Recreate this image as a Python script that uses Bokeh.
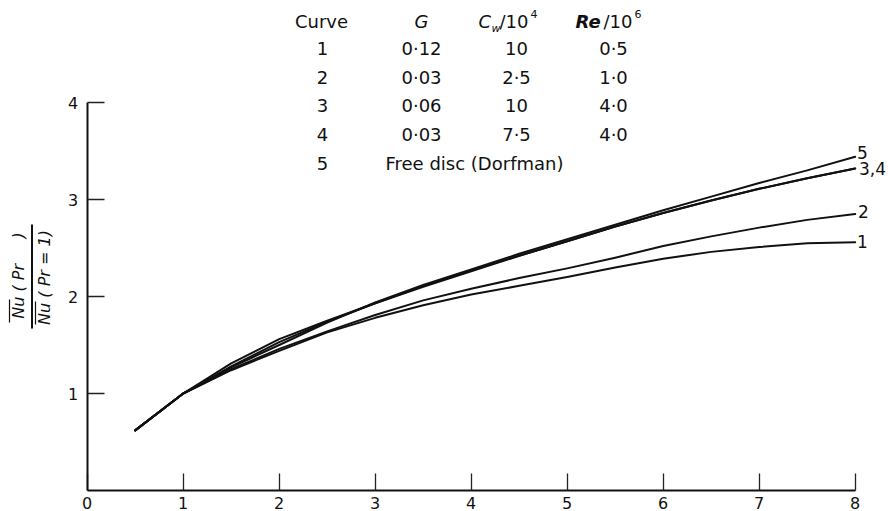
import math
from bokeh.plotting import figure
from bokeh.models import Label, Arrow, FixedTicker, Range1d
from bokeh.embed import file_html
from bokeh.resources import INLINE

# ---- data ----
pr = [0.5, 1.0, 1.5, 2.0, 2.5, 3.0, 3.5, 4.0, 4.5, 5.0, 5.5, 6.0, 6.5, 7.0, 7.5, 8.0]
curve1 = [0.62, 1.00, 1.24, 1.44, 1.63, 1.78, 1.91, 2.02, 2.11, 2.20, 2.30, 2.39, 2.46, 2.51, 2.55, 2.56]
curve2 = [0.62, 1.00, 1.25, 1.46, 1.64, 1.81, 1.96, 2.08, 2.19, 2.29, 2.40, 2.52, 2.62, 2.71, 2.79, 2.85]
curve3 = [0.62, 1.00, 1.31, 1.56, 1.75, 1.93, 2.10, 2.26, 2.42, 2.57, 2.72, 2.86, 2.99, 3.11, 3.22, 3.32]
curve4 = [0.62, 1.00, 1.28, 1.53, 1.74, 1.93, 2.11, 2.27, 2.42, 2.57, 2.72, 2.86, 2.99, 3.11, 3.22, 3.32]
curve5 = [0.62, 1.00, 1.27, 1.50, 1.73, 1.94, 2.12, 2.28, 2.44, 2.59, 2.74, 2.89, 3.03, 3.17, 3.30, 3.44]
curves = [curve1, curve2, curve3, curve4, curve5]
end_labels = ["1", "2", "3,4", "5"]

x_ticks = [0, 1, 2, 3, 4, 5, 6, 7, 8]
y_ticks = [1, 2, 3, 4]

table_header = ["Curve", "G", "C", "Re"]
table_curve = ["1", "2", "3", "4", "5"]
table_G = ["0·12", "0·03", "0·06", "0·03"]
table_Cw = ["10", "2·5", "10", "7·5"]
table_Re = ["0·5", "1·0", "4·0", "4·0"]
table_free = "Free disc (Dorfman)"

NB = "\u00a0"
ylabel_top = "Nu" + NB + "(" + NB + "Pr" + NB * 5 + ")"
ylabel_bottom = "Nu" + NB + "(" + NB + "Pr" + NB + "=" + NB + "1)"

FONT = "DejaVu Sans"
W, H = 888, 511
X0PX, XSCALE = 86.7, 96.0      # pixel of Pr = 0, pixels per unit
Y0PX, YSCALE = 490.0, 97.0     # pixel of ratio = 0, pixels per unit

p = figure(width=W, height=H, output_backend="svg", toolbar_location=None,
           x_range=Range1d(-X0PX / XSCALE, (W - X0PX) / XSCALE),
           y_range=Range1d(-(H - Y0PX) / YSCALE, Y0PX / YSCALE),
           min_border_left=0, min_border_right=0, min_border_top=0, min_border_bottom=0)
p.outline_line_color = None
p.xgrid.visible = False
p.ygrid.visible = False
p.background_fill_color = "white"
p.border_fill_color = "white"

for ax in (p.xaxis[0], p.yaxis[0]):
    ax.fixed_location = 0
    ax.axis_line_width = 2
    ax.axis_line_color = "#111111"
    ax.major_tick_in = 17
    ax.major_tick_out = 0
    ax.major_tick_line_width = 1.3
    ax.major_tick_line_color = "#222222"
    ax.minor_tick_line_color = None
    ax.major_label_text_font = FONT
    ax.major_label_text_font_size = "16px"
    ax.major_label_text_color = "#111111"
p.xaxis[0].ticker = FixedTicker(ticks=x_ticks)
p.yaxis[0].ticker = FixedTicker(ticks=y_ticks)
p.xaxis[0].bounds = (0, 8)
p.yaxis[0].bounds = (0, 4)
p.xaxis[0].major_label_standoff = 6
p.yaxis[0].major_label_standoff = 9

for c in curves:
    p.line(pr, c, line_width=2, line_color="#111111", line_cap="round", line_join="round")


def xd(px):
    return (px - X0PX) / XSCALE


def yd(py):
    return (Y0PX - py) / YSCALE


def lab(text, px, py, align="center", size="18px", style="normal", baseline="middle", angle=0):
    p.add_layout(Label(x=xd(px), y=yd(py), text=text, text_align=align, text_baseline=baseline,
                       text_font=FONT, text_font_size=size, text_font_style=style,
                       text_color="#111111", angle=angle))


# curve end labels
end_px = [(862, 241), (863, 211), (872, 168), (862, 152)]
for t, (px, py) in zip(end_labels, end_px):
    lab(t, px, py, size="17px")

# table
rows_y = [48, 77, 105, 134, 163]
lab(table_header[0], 321, 21)
lab(table_header[1], 421, 21, style="italic")
lab(table_header[2], 478, 21, align="left", style="italic")
lab("w", 491, 28, align="left", size="11px", style="italic")
lab("/10", 499, 21, align="left")
lab("4", 530, 13, align="left", size="11px")
lab(table_header[3], 575, 21, align="left", style="bold italic")
lab("/10", 603, 21, align="left")
lab("6", 634, 13, align="left", size="11px")
for i, t in enumerate(table_curve):
    lab(t, 322, rows_y[i])
for i in range(4):
    lab(table_G[i], 421, rows_y[i])
    lab(table_Cw[i], 516, rows_y[i])
    lab(table_Re[i], 613, rows_y[i])
lab(table_free, 385, rows_y[4], align="left")

# y-axis label: rotated fraction
lab(ylabel_top, 18, 275, size="16px", style="italic", angle=math.pi / 2)
lab(ylabel_bottom, 44, 277, size="16px", style="italic", angle=math.pi / 2)
p.add_layout(Arrow(end=None, x_start=xd(31.5), y_start=yd(224), x_end=xd(31.5), y_end=yd(328),
                   line_width=2, line_color="#111111"))
p.add_layout(Arrow(end=None, x_start=xd(9), y_start=yd(299), x_end=xd(9), y_end=yd(322),
                   line_width=1.2, line_color="#111111"))
p.add_layout(Arrow(end=None, x_start=xd(35), y_start=yd(301), x_end=xd(35), y_end=yd(324),
                   line_width=1.2, line_color="#111111"))

open("out.html", "w").write(file_html(p, INLINE))
